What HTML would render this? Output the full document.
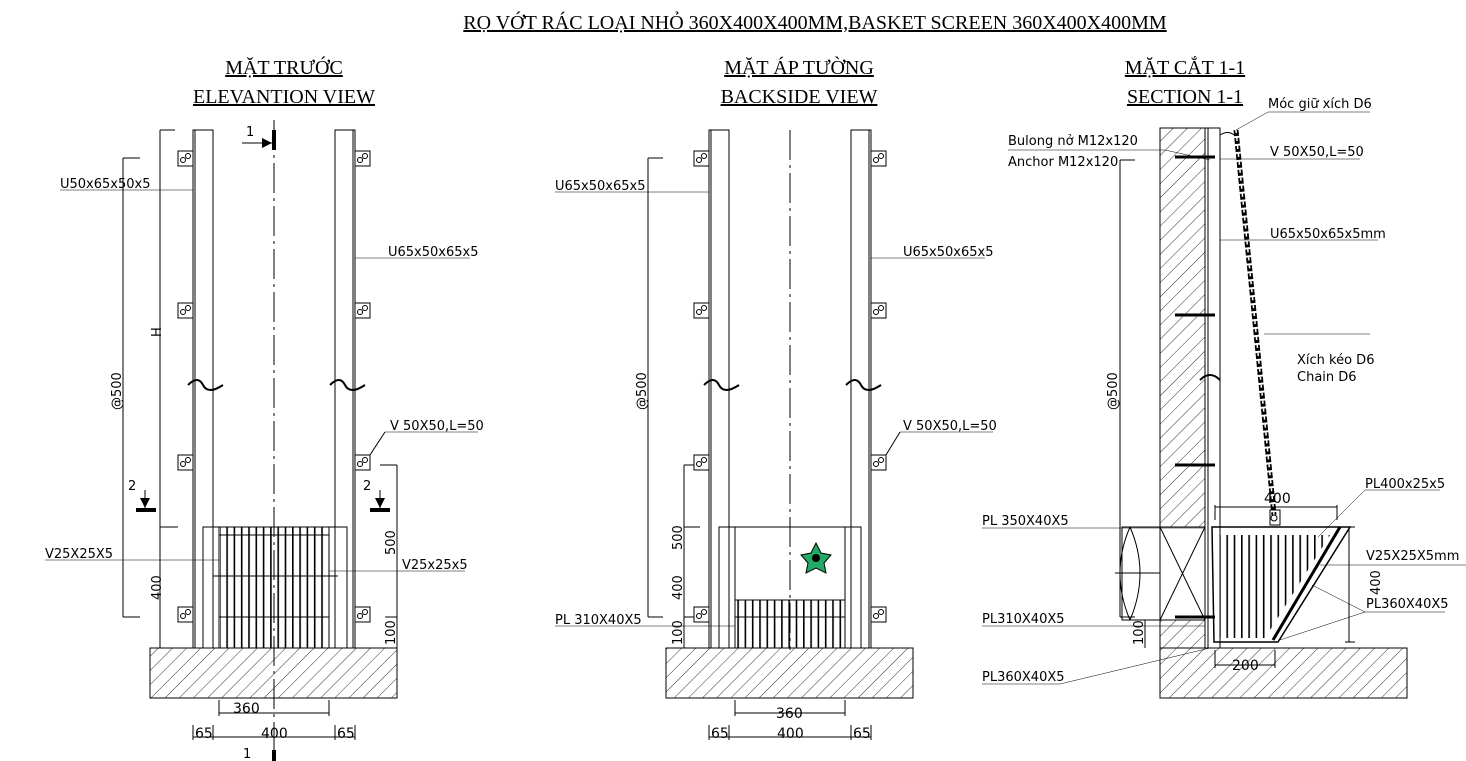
<!DOCTYPE html>
<html><head><meta charset="utf-8"><style>
body{margin:0;background:#fff}
svg{display:block}
text{font-family:"DejaVu Sans","Liberation Sans",sans-serif;font-size:13px;fill:#000}
.t{font-family:"Liberation Serif",serif;font-size:20px;text-decoration:underline}
</style></head><body>
<svg width="1466" height="761" viewBox="0 0 1466 761" xmlns="http://www.w3.org/2000/svg">
<defs>
<pattern id="h" width="10" height="10" patternUnits="userSpaceOnUse" patternTransform="rotate(45)"><line x1="0" y1="0" x2="0" y2="10" stroke="#000" stroke-width="0.8"/></pattern>
<pattern id="bars" width="7.3" height="10" patternUnits="userSpaceOnUse"><rect x="0" y="0" width="1.6" height="10" fill="#000"/></pattern>
<g id="brk"><rect x="0" y="0" width="15" height="15" fill="#fff" stroke="#000"/><circle cx="5" cy="9" r="2.5" fill="none" stroke="#000"/><circle cx="10" cy="5" r="2.5" fill="none" stroke="#000"/></g>
</defs>
<text class="t" x="815" y="29" text-anchor="middle">RỌ VỚT RÁC LOẠI NHỎ 360X400X400MM,BASKET SCREEN 360X400X400MM</text>
<text class="t" x="284" y="74" text-anchor="middle">MẶT TRƯỚC</text>
<text class="t" x="284" y="103" text-anchor="middle">ELEVANTION VIEW</text>
<text class="t" x="799" y="74" text-anchor="middle">MẶT ÁP TƯỜNG</text>
<text class="t" x="799" y="103" text-anchor="middle">BACKSIDE VIEW</text>
<text class="t" x="1185" y="74" text-anchor="middle">MẶT CẮT 1-1</text>
<text class="t" x="1185" y="103" text-anchor="middle">SECTION 1-1</text>

<!-- ===== LEFT VIEW ===== -->
<rect x="150" y="648" width="247" height="50" fill="url(#h)" stroke="#000"/>
<g stroke="#000" fill="none">
<rect x="193" y="130" width="20" height="518" fill="#fff"/>
<rect x="335" y="130" width="20" height="518" fill="#fff"/>
<line x1="195" y1="130" x2="195" y2="648"/><line x1="353" y1="130" x2="353" y2="648"/>
<line x1="274" y1="120" x2="274" y2="760" stroke-dasharray="30,5,3,5"/>
<rect x="203" y="527" width="144" height="121"/>
<rect x="219" y="527" width="110" height="121"/>
<rect x="220" y="527" width="109" height="121" fill="url(#bars)" stroke="none"/>
<line x1="213" y1="576" x2="338" y2="576"/><line x1="219" y1="617" x2="329" y2="617"/><line x1="219" y1="535" x2="329" y2="535"/>
<line x1="160" y1="130" x2="160" y2="648"/><line x1="160" y1="130" x2="175" y2="130"/>
<line x1="123" y1="158" x2="123" y2="617"/><line x1="123" y1="158" x2="140" y2="158"/><line x1="123" y1="617" x2="140" y2="617"/>
<line x1="160" y1="527" x2="178" y2="527"/>
<line x1="397" y1="465" x2="397" y2="648"/><line x1="380" y1="465" x2="397" y2="465"/><line x1="385" y1="617" x2="397" y2="617"/>
<line x1="219" y1="700" x2="219" y2="716"/><line x1="329" y1="700" x2="329" y2="716"/><line x1="219" y1="713" x2="329" y2="713"/>
<line x1="193" y1="725" x2="193" y2="740"/><line x1="355" y1="725" x2="355" y2="740"/><line x1="213" y1="725" x2="213" y2="740"/><line x1="335" y1="725" x2="335" y2="740"/><line x1="193" y1="737" x2="355" y2="737"/>
<line x1="60" y1="190" x2="193" y2="190" stroke-width="0.5"/>
<line x1="355" y1="258" x2="470" y2="258" stroke-width="0.5"/>
<line x1="370" y1="455" x2="385" y2="432"/><line x1="385" y1="432" x2="478" y2="432" stroke-width="0.5"/>
<line x1="45" y1="560" x2="219" y2="560" stroke-width="0.5"/>
<line x1="329" y1="571" x2="465" y2="571" stroke-width="0.5"/>
<path d="M188 385 q10 -10 15 0 t20 0" stroke-width="2"/><path d="M330 385 q10 -10 15 0 t20 0" stroke-width="2"/>
</g>
<rect x="272" y="130" width="4" height="20" fill="#000"/><line x1="242" y1="143" x2="272" y2="143" stroke="#000"/><polygon points="272,143 262,138 262,148"/>
<rect x="272" y="750" width="4" height="11"/>
<line x1="145" y1="490" x2="145" y2="508" stroke="#000"/><polygon points="140,498 150,498 145,508"/><rect x="136" y="508" width="20" height="4"/>
<line x1="380" y1="490" x2="380" y2="508" stroke="#000"/><polygon points="375,498 385,498 380,508"/><rect x="370" y="508" width="20" height="4"/>
<use href="#brk" x="178" y="151"/><use href="#brk" x="178" y="303"/><use href="#brk" x="178" y="455"/><use href="#brk" x="178" y="607"/>
<use href="#brk" x="355" y="151"/><use href="#brk" x="355" y="303"/><use href="#brk" x="355" y="455"/><use href="#brk" x="355" y="607"/>
<text x="60" y="188">U50x65x50x5</text>
<text x="388" y="256">U65x50x65x5</text>
<text x="390" y="430">V 50X50,L=50</text>
<text x="45" y="558">V25X25X5</text>
<text x="402" y="569">V25x25x5</text>
<text x="246" y="136">1</text><text x="243" y="758">1</text>
<text x="128" y="490">2</text><text x="363" y="490">2</text>
<text x="233" y="713" style="font-size:14px">360</text>
<text x="261" y="738" style="font-size:14px">400</text><text x="195" y="738" style="font-size:14px">65</text><text x="337" y="738" style="font-size:14px">65</text>
<text transform="translate(161,337) rotate(-90)">H</text>
<text transform="translate(121,410) rotate(-90)">@500</text>
<text transform="translate(161,600) rotate(-90)">400</text>
<text transform="translate(395,555) rotate(-90)">500</text>
<text transform="translate(395,645) rotate(-90)">100</text>

<!-- ===== MIDDLE VIEW ===== -->
<rect x="666" y="648" width="247" height="50" fill="url(#h)" stroke="#000"/>
<g stroke="#000" fill="none">
<rect x="709" y="130" width="20" height="518" fill="#fff"/>
<rect x="851" y="130" width="20" height="518" fill="#fff"/>
<line x1="711" y1="130" x2="711" y2="648"/><line x1="869" y1="130" x2="869" y2="648"/>
<line x1="790" y1="130" x2="790" y2="650" stroke-dasharray="30,5,3,5"/>
<rect x="719" y="527" width="142" height="121"/>
<rect x="735" y="527" width="110" height="121"/>
<rect x="736" y="600" width="109" height="48" fill="url(#bars)" stroke="none"/>
<line x1="735" y1="600" x2="845" y2="600"/><line x1="735" y1="617" x2="845" y2="617"/>
<line x1="648" y1="158" x2="648" y2="617"/><line x1="648" y1="158" x2="663" y2="158"/><line x1="648" y1="617" x2="663" y2="617"/>
<line x1="684" y1="465" x2="684" y2="648"/><line x1="684" y1="465" x2="700" y2="465"/><line x1="684" y1="527" x2="700" y2="527"/><line x1="684" y1="617" x2="700" y2="617"/>
<line x1="735" y1="700" x2="735" y2="716"/><line x1="845" y1="700" x2="845" y2="716"/><line x1="735" y1="713" x2="845" y2="713"/>
<line x1="709" y1="725" x2="709" y2="740"/><line x1="871" y1="725" x2="871" y2="740"/><line x1="729" y1="725" x2="729" y2="740"/><line x1="851" y1="725" x2="851" y2="740"/><line x1="709" y1="737" x2="871" y2="737"/>
<line x1="555" y1="192" x2="709" y2="192" stroke-width="0.5"/>
<line x1="871" y1="258" x2="985" y2="258" stroke-width="0.5"/>
<line x1="886" y1="455" x2="900" y2="432"/><line x1="900" y1="432" x2="993" y2="432" stroke-width="0.5"/>
<line x1="555" y1="626" x2="735" y2="626" stroke-width="0.5"/>
<path d="M704 385 q10 -10 15 0 t20 0" stroke-width="2"/><path d="M846 385 q10 -10 15 0 t20 0" stroke-width="2"/>
</g>
<g transform="translate(816,558)"><polygon points="0,-15 5,-5 15,-3 8,5 10,15 0,10 -10,15 -8,5 -15,-3 -5,-5" fill="#2a6" stroke="#000"/><circle r="4" fill="#000"/></g>
<use href="#brk" x="694" y="151"/><use href="#brk" x="694" y="303"/><use href="#brk" x="694" y="455"/><use href="#brk" x="694" y="607"/>
<use href="#brk" x="871" y="151"/><use href="#brk" x="871" y="303"/><use href="#brk" x="871" y="455"/><use href="#brk" x="871" y="607"/>
<text x="555" y="190">U65x50x65x5</text>
<text x="903" y="256">U65x50x65x5</text>
<text x="903" y="430">V 50X50,L=50</text>
<text x="555" y="624">PL 310X40X5</text>
<text x="776" y="718" style="font-size:14px">360</text><text x="777" y="738" style="font-size:14px">400</text><text x="711" y="738" style="font-size:14px">65</text><text x="853" y="738" style="font-size:14px">65</text>
<text transform="translate(646,410) rotate(-90)">@500</text>
<text transform="translate(682,550) rotate(-90)">500</text>
<text transform="translate(682,600) rotate(-90)">400</text>
<text transform="translate(682,645) rotate(-90)">100</text>

<!-- ===== SECTION ===== -->
<rect x="1160" y="128" width="45" height="399" fill="url(#h)" stroke="#000"/>
<rect x="1160" y="648" width="247" height="50" fill="url(#h)" stroke="#000"/>
<rect x="1160" y="620" width="45" height="28" fill="url(#h)" stroke="#000"/>
<g stroke="#000" fill="none">
<rect x="1160" y="527" width="45" height="93"/><line x1="1160" y1="527" x2="1205" y2="620"/><line x1="1205" y1="527" x2="1160" y2="620"/>
<rect x="1122" y="527" width="38" height="93"/><line x1="1115" y1="573" x2="1160" y2="573"/>
<path d="M1130 527 q-20 46 0 93 M1130 527 q20 46 0 93"/>
<rect x="1205" y="128" width="15" height="520"/><line x1="1208" y1="128" x2="1208" y2="648"/>
<path d="M1220 135 q8 -5 14 0"/>
<line x1="1175" y1="157" x2="1215" y2="157" stroke-width="3"/>
<line x1="1175" y1="315" x2="1215" y2="315" stroke-width="3"/>
<line x1="1175" y1="465" x2="1215" y2="465" stroke-width="3"/>
<line x1="1175" y1="617" x2="1215" y2="617" stroke-width="3"/>
<path d="M1200 380 q10 -10 20 0" stroke-width="2"/>
<line x1="1236" y1="130" x2="1274" y2="515" stroke-width="5" stroke-dasharray="6,2"/>
<line x1="1236" y1="130" x2="1274" y2="515" stroke="#fff" stroke-width="1.5" stroke-dasharray="3,5"/>
<rect x="1270" y="510" width="10" height="15"/><circle cx="1274" cy="518" r="3"/>
<path d="M1212 527 H1350 L1278 642 H1214 Z" stroke-width="1.5"/>
<path d="M1220 535 H1330 L1265 638 H1220 Z" fill="url(#bars)" stroke="none"/>
<line x1="1340" y1="527" x2="1273" y2="640" stroke-width="3"/>
<line x1="1120" y1="160" x2="1120" y2="617"/><line x1="1120" y1="160" x2="1135" y2="160"/><line x1="1120" y1="617" x2="1135" y2="617"/>
<line x1="1215" y1="520" x2="1215" y2="505"/><line x1="1337" y1="520" x2="1337" y2="505"/><line x1="1215" y1="507" x2="1337" y2="507"/>
<line x1="1349" y1="527" x2="1349" y2="642"/><line x1="1345" y1="527" x2="1355" y2="527"/><line x1="1345" y1="642" x2="1355" y2="642"/>
<line x1="1145" y1="620" x2="1145" y2="648"/>
<line x1="1215" y1="650" x2="1215" y2="668"/><line x1="1275" y1="650" x2="1275" y2="668"/><line x1="1215" y1="665" x2="1275" y2="665"/>
<line x1="1236" y1="130" x2="1268" y2="112" stroke-width="0.5"/><line x1="1268" y1="112" x2="1370" y2="112" stroke-width="0.5"/>
<line x1="1008" y1="150" x2="1165" y2="150" stroke-width="0.5"/><line x1="1165" y1="150" x2="1210" y2="160" stroke-width="0.5"/>
<line x1="1220" y1="159" x2="1360" y2="159" stroke-width="0.5"/>
<line x1="1220" y1="240" x2="1378" y2="240" stroke-width="0.5"/>
<line x1="1264" y1="334" x2="1295" y2="334" stroke-width="0.5"/><line x1="1295" y1="334" x2="1370" y2="334" stroke-width="0.5"/>
<line x1="1318" y1="537" x2="1365" y2="490" stroke-width="0.5"/><line x1="1365" y1="490" x2="1440" y2="490" stroke-width="0.5"/>
<line x1="1320" y1="565" x2="1466" y2="565" stroke-width="0.5"/>
<line x1="1312" y1="585" x2="1365" y2="612" stroke-width="0.5"/><line x1="1280" y1="640" x2="1365" y2="612" stroke-width="0.5"/><line x1="1365" y1="612" x2="1445" y2="612" stroke-width="0.5"/>
<line x1="982" y1="528" x2="1205" y2="528" stroke-width="0.5"/>
<line x1="982" y1="626" x2="1205" y2="626" stroke-width="0.5"/>
<line x1="982" y1="684" x2="1060" y2="684" stroke-width="0.5"/><line x1="1060" y1="684" x2="1210" y2="648" stroke-width="0.5"/>
</g>
<text x="1268" y="108">Móc giữ xích D6</text>
<text x="1008" y="145">Bulong nở M12x120</text>
<text x="1008" y="166">Anchor M12x120</text>
<text x="1270" y="156">V 50X50,L=50</text>
<text x="1270" y="238">U65x50x65x5mm</text>
<text x="1297" y="364">Xích kéo D6</text>
<text x="1297" y="381">Chain D6</text>
<text x="1365" y="488">PL400x25x5</text>
<text x="1366" y="560">V25X25X5mm</text>
<text x="1366" y="608">PL360X40X5</text>
<text x="982" y="525">PL 350X40X5</text>
<text x="982" y="623">PL310X40X5</text>
<text x="982" y="681">PL360X40X5</text>
<text x="1264" y="503" style="font-size:14px">400</text>
<text x="1232" y="670" style="font-size:14px">200</text>
<text transform="translate(1117,410) rotate(-90)">@500</text>
<text transform="translate(1380,595) rotate(-90)">400</text>
<text transform="translate(1143,645) rotate(-90)">100</text>
</svg>
</body></html>
